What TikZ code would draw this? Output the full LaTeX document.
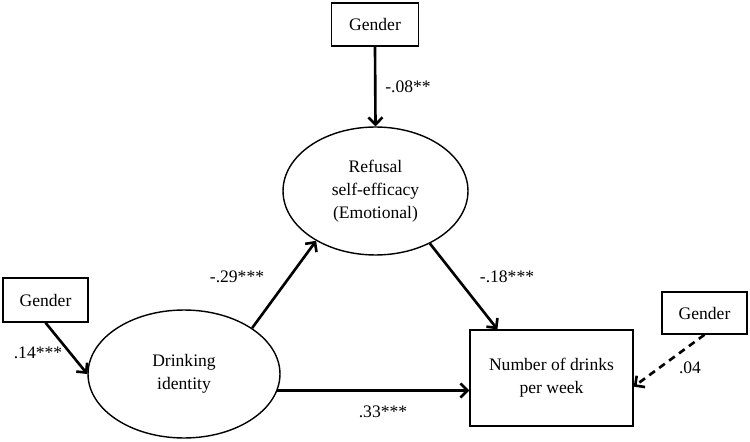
\documentclass[tikz,border=0pt]{standalone}
\usepackage{fontspec}
\setmainfont{Liberation Serif}
\usetikzlibrary{shapes.geometric,arrows.meta}

\begin{document}
\begin{tikzpicture}[x=0.02cm,y=-0.02cm,
  box/.style={draw,line width=0.8pt,inner sep=0pt,align=center,font=\fontsize{10}{13}\selectfont},
  latent/.style={draw,ellipse,line width=0.8pt,inner sep=0pt,align=center,font=\fontsize{10}{13}\selectfont},
  path/.style={line width=1.5pt,-{Straight Barb[length=4pt,width=8pt]}},
  coef/.style={inner sep=0pt,font=\fontsize{10}{12}\selectfont}]
  \useasboundingbox (0,0) rectangle (750,442);
  % variables
  \node[box,minimum width=1.74cm,minimum height=0.86cm] (gtop) at (375,24.5) {Gender};
  \node[box,minimum width=1.7cm,minimum height=0.88cm] (gleft) at (45.5,300) {Gender};
  \node[box,minimum width=1.7cm,minimum height=0.84cm] (gright) at (704.5,313) {Gender};
  \node[latent,minimum width=3.7cm,minimum height=2.56cm] (refusal) at (375.5,191) {Refusal\\self-efficacy\\(Emotional)};
  \node[latent,minimum width=3.84cm,minimum height=2.56cm] (drinking) at (184,374) {Drinking\\identity};
  \node[box,minimum width=3.26cm,minimum height=1.92cm] (number) at (551.5,378) {Number of drinks\\per week};
  % paths
  \draw[path] (gtop.south) -- (refusal.north);
  \node[coef] (c1) at (408,87) {-.08**};
  \draw[path] (gleft.south) -- (drinking.west);
  \node[coef] (c2) at (38,353) {.14***};
  \draw[path] (drinking.34) -- (refusal.220);
  \node[coef] (c3) at (237,277) {-.29***};
  \draw[path] (refusal.-44) -- (number.138.6);
  \node[coef] (c4) at (507,277) {-.18***};
  \draw[path] (drinking.-10) -- (drinking.-10 -| number.west);
  \node[coef] (c5) at (383,412) {.33***};
  \draw[path,dash pattern=on 4pt off 3pt] (gright.south) -- (number.-6);
  \node[coef] (c6) at (690,368) {.04};
\end{tikzpicture}
\end{document}
